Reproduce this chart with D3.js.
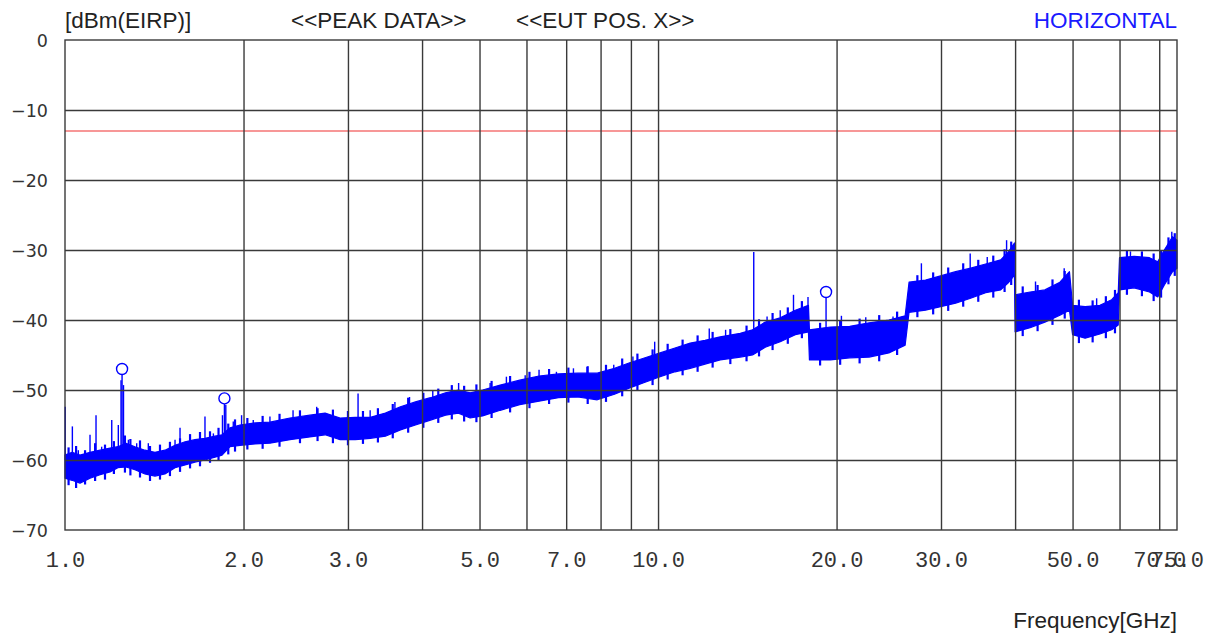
<!DOCTYPE html>
<html><head><meta charset="utf-8">
<script src="https://cdn.jsdelivr.net/npm/d3@7"></script>
<style>body{margin:0;background:#fff}svg{display:block}</style>
</head><body><svg id="c" width="1211" height="636"></svg>
<script>
// ---- data ----
const bandFreq = [1.000,1.028,1.060,1.102,1.146,1.191,1.228,1.267,1.312,1.364,1.418,1.474,1.533,1.594,1.656,1.722,1.790,1.840,1.898,1.973,2.092,2.216,2.395,2.588,2.745,2.910,3.086,3.272,3.469,3.678,3.899,4.134,4.382,4.607,4.820,5.060,5.418,5.844,6.300,6.793,7.324,7.898,8.445,8.957,9.509,10.08,10.68,11.33,12.00,12.73,13.76,14.43,15.16,16.07,17.04,17.93,18.00,19.52,21.05,22.70,24.50,26.10,26.50,28.25,29.95,31.75,33.66,35.68,37.83,38.95,39.90,40.00,42.40,44.90,47.60,49.40,50.00,52.50,55.60,58.20,59.70,60.00,63.50,67.40,69.60,71.40,73.70,75.00];
const bandTop = [-59.3,-58.9,-59.3,-58.9,-58.6,-58.3,-58.1,-57.6,-58.1,-58.6,-58.9,-58.6,-57.9,-57.4,-57.1,-56.9,-56.6,-56.4,-55.4,-55.0,-54.7,-54.6,-54.0,-53.6,-53.3,-54.0,-53.9,-53.9,-53.3,-52.4,-51.7,-51.1,-50.4,-50.0,-50.4,-50.0,-49.3,-48.6,-48.0,-47.7,-47.6,-47.6,-46.9,-46.1,-45.4,-44.7,-44.0,-43.3,-42.9,-42.4,-41.9,-41.4,-40.3,-39.7,-38.6,-37.9,-41.4,-41.0,-40.9,-40.4,-40.0,-39.4,-34.6,-34.3,-33.7,-33.1,-32.6,-32.0,-31.4,-30.3,-29.0,-36.4,-36.0,-35.7,-34.6,-33.1,-37.9,-38.1,-37.9,-37.1,-36.1,-31.1,-30.9,-31.1,-31.7,-30.0,-28.1,-28.6];
const bandBottom = [-62.6,-62.9,-63.3,-62.6,-62.1,-61.7,-61.1,-61.0,-61.4,-62.0,-62.3,-62.0,-61.1,-60.7,-60.3,-60.0,-59.6,-59.3,-58.1,-57.9,-57.7,-57.6,-57.1,-56.7,-56.4,-57.1,-57.1,-56.9,-56.6,-55.7,-55.0,-54.3,-53.6,-53.3,-54.0,-53.7,-52.9,-52.1,-51.6,-51.1,-51.0,-51.4,-50.6,-49.7,-48.9,-48.1,-47.4,-46.9,-46.3,-45.7,-45.3,-45.0,-43.9,-43.1,-42.1,-41.7,-45.7,-45.7,-45.4,-45.3,-44.7,-43.6,-38.9,-38.6,-38.1,-37.6,-36.9,-36.1,-35.7,-34.7,-33.6,-41.7,-41.1,-40.3,-39.3,-38.6,-42.1,-42.6,-42.0,-41.4,-40.7,-35.7,-35.4,-36.0,-36.7,-35.0,-33.1,-32.6];

// fine noise texture of the trace: local high / low excursions
const noiseFreq = [1.014,1.044,1.081,1.124,1.168,1.209,1.262,1.289,1.338,1.391,1.446,1.503,1.563,1.625,1.689,1.756,1.815,1.885,1.935,2.03,2.154,2.30,2.49,2.666,2.83,3.0,3.18,3.37,3.57,3.79,4.02,4.26,4.49,4.71,4.94,5.24,5.63,6.07,6.55,7.06,7.61,8.17,8.70,9.23,9.79,10.38,11.0,11.66,12.36,13.24,14.1,14.8,15.6,16.55,17.48,18.76,20.28,21.87,23.6,25.3,27.37,29.1,30.85,32.7,34.67,36.75,38.4,39.4,41.2,43.65,46.25,48.5,51.25,54.05,56.9,58.95,61.75,65.45,68.5,70.5,72.55,74.35];
const noiseHigh = [-58.2,-58.0,-58.6,-57.6,-57.8,-57.3,-56.5,-57.0,-57.2,-58.0,-57.8,-57.4,-56.9,-56.3,-56.0,-55.9,-55.4,-54.8,-54.2,-54.0,-53.7,-53.4,-52.9,-52.6,-52.8,-53.0,-53.0,-52.6,-52.0,-51.1,-50.4,-49.8,-49.3,-49.4,-49.2,-48.7,-48.0,-47.4,-47.0,-46.8,-46.6,-46.4,-45.5,-44.8,-44.2,-43.4,-42.8,-42.2,-41.7,-41.3,-40.8,-39.9,-39.0,-38.2,-37.3,-40.4,-40.0,-39.8,-39.3,-38.8,-33.6,-33.2,-32.5,-31.9,-31.4,-30.8,-29.9,-28.8,-35.2,-35.0,-34.2,-33.0,-37.1,-37.2,-36.6,-35.7,-30.1,-30.2,-30.5,-30.0,-28.2,-27.6];
const noiseLow = [-63.6,-64.0,-63.5,-63.0,-62.8,-62.0,-61.8,-62.2,-62.5,-63.0,-62.8,-62.3,-61.7,-61.2,-60.9,-60.4,-60.1,-59.2,-58.8,-58.5,-58.4,-58.1,-57.6,-57.3,-57.6,-57.9,-57.7,-57.5,-56.9,-56.1,-55.4,-54.7,-54.2,-54.5,-54.6,-54.0,-53.2,-52.6,-52.0,-51.8,-52.0,-51.7,-50.9,-50.0,-49.3,-48.5,-47.9,-47.4,-46.8,-46.3,-45.9,-45.2,-44.3,-43.4,-42.6,-46.5,-46.4,-46.2,-45.9,-45.0,-39.6,-39.2,-38.7,-38.1,-37.4,-36.8,-36.0,-35.0,-42.3,-41.6,-40.7,-39.8,-43.3,-43.2,-42.6,-41.9,-36.4,-36.6,-37.3,-36.8,-34.9,-33.7];

const spikeFreq = [1.001,1.029,1.053,1.102,1.128,1.153,1.199,1.230,1.243,1.248,1.255,1.279,1.321,1.382,1.446,1.533,1.563,1.625,1.722,1.779,1.843,1.857,1.867,1.922,1.985,2.077,2.216,2.424,2.657,2.796,2.963,3.12,3.27,3.60,3.81,4.17,4.61,5.21,5.55,5.97,6.30,6.74,7.20,7.59,8.42,9.07,9.87,12.2,13.0,14.5,15.27,16.07,16.92,17.9,19.2,20.38,22.4,24.9,27.8,33.6,35.9,38.7,43.3,48.4,54.9,62.6,73.5];
const spikeTop = [-52.4,-55.2,-58.6,-56.4,-53.6,-58.1,-54.3,-55.0,-48.6,-47.0,-49.3,-57.1,-57.6,-57.6,-58.3,-57.1,-55.4,-56.9,-53.8,-56.2,-53.6,-51.2,-52.1,-54.5,-53.6,-54.3,-53.8,-52.9,-52.4,-53.6,-54.3,-50.5,-52.9,-51.7,-51.0,-50.0,-49.0,-49.0,-48.1,-47.9,-47.1,-47.4,-46.9,-46.7,-46.4,-45.2,-43.1,-41.2,-41.4,-30.3,-39.5,-38.6,-36.4,-36.7,-36.0,-39.4,-39.6,-39.5,-31.9,-30.5,-31.0,-28.6,-34.5,-32.6,-36.9,-30.2,-27.4];
const spikeBase = [-60.0,-60.0,-61.0,-60.5,-60.0,-60.0,-60.0,-59.5,-60.0,-60.0,-60.0,-59.5,-60.0,-60.5,-60.5,-59.5,-59.0,-58.7,-58.5,-58.0,-58.0,-58.0,-57.5,-56.7,-56.5,-56.2,-56.0,-55.5,-55.0,-55.0,-55.5,-55.5,-55.4,-54.5,-53.5,-52.7,-51.7,-51.5,-50.8,-50.2,-49.8,-49.4,-49.3,-49.3,-48.7,-48.0,-46.5,-44.5,-44.0,-43.0,-42.0,-41.4,-40.4,-39.8,-43.0,-43.0,-43.0,-42.3,-36.5,-34.8,-34.0,-32.5,-38.0,-36.0,-40.0,-33.0,-30.5];

const markerFreq = [1.248, 1.857, 19.2];
const markerLevel = [-47.0, -51.2, -36.0];
const limitLevel = -13;

const gridFreq = [2,3,4,5,6,7,8,9,10,20,30,40,50,60,70];
const tickFreq = [1,2,3,5,7,10,20,30,50,70,75];
const tickLabels = ["1.0","2.0","3.0","5.0","7.0","10.0","20.0","30.0","50.0","70.0","75.0"];
const levelTicks = [0,-10,-20,-30,-40,-50,-60,-70];
const levelLabels = ["0","\u221210","\u221220","\u221230","\u221240","\u221250","\u221260","\u221270"];

// ---- drawing ----
const svg = d3.select("#c");
const W = 1211, H = 636;
const L = 65, R = 1177, T = 40, B = 530;
const x = d3.scaleLog().domain([1, 75]).range([L, R]);
const y = d3.scaleLinear().domain([-70, 0]).range([B, T]);
const blue = "#0000ff";
const gridCol = "#3a3a3a";

svg.append("rect").attr("width", W).attr("height", H).attr("fill", "#fff");

// limit line
svg.append("line").attr("x1", L).attr("x2", R)
  .attr("y1", y(limitLevel)).attr("y2", y(limitLevel))
  .attr("stroke", "#f03030").attr("stroke-width", 1.2);

// band
const band = bandFreq.map((f, i) => ({f, t: bandTop[i], b: bandBottom[i]}));
const area = d3.area().x(d => x(d.f)).y0(d => y(d.b)).y1(d => y(d.t));
svg.append("path").datum(band).attr("d", area)
  .attr("fill", blue).attr("stroke", blue).attr("stroke-width", 1.2).attr("stroke-linejoin", "round");

// noise texture
const noise = noiseFreq.map((f, i) => ({f, t: noiseHigh[i], b: noiseLow[i]}));
svg.append("g").selectAll("line").data(noise).join("line")
  .attr("x1", d => x(d.f)).attr("x2", d => x(d.f))
  .attr("y1", d => y(d.b)).attr("y2", d => y(d.t))
  .attr("stroke", blue).attr("stroke-width", 2.2);

// spikes
const spikes = spikeFreq.map((f, i) => ({f, t: spikeTop[i], b: spikeBase[i]}));
svg.append("g").selectAll("line").data(spikes).join("line")
  .attr("x1", d => x(d.f)).attr("x2", d => x(d.f))
  .attr("y1", d => y(d.b)).attr("y2", d => y(d.t))
  .attr("stroke", blue).attr("stroke-width", 1.4);

// markers
svg.append("g").selectAll("circle").data(markerFreq).join("circle")
  .attr("cx", d => x(d)).attr("cy", (d, i) => y(markerLevel[i]))
  .attr("r", 5.5).attr("fill", "#fff").attr("stroke", blue).attr("stroke-width", 1.4);

// grid (on top of trace)
const gx = svg.append("g").attr("transform", `translate(0,${B})`)
  .call(d3.axisBottom(x).tickValues(gridFreq).tickSize(-(B - T)).tickFormat(""));
gx.select(".domain").remove();
gx.selectAll("line").attr("stroke", gridCol).attr("stroke-width", 1.4);

const gy = svg.append("g").attr("transform", `translate(${L},0)`)
  .call(d3.axisLeft(y).tickValues(levelTicks.slice(1, -1)).tickSize(-(R - L)).tickFormat(""));
gy.select(".domain").remove();
gy.selectAll("line").attr("stroke", gridCol).attr("stroke-width", 1.4);

// frame
svg.append("rect").attr("x", L).attr("y", T).attr("width", R - L).attr("height", B - T)
  .attr("fill", "none").attr("stroke", gridCol).attr("stroke-width", 1.4);

// y labels
const ya = svg.append("g").attr("transform", `translate(48,0)`)
  .call(d3.axisLeft(y).tickValues(levelTicks).tickSize(0).tickPadding(0)
    .tickFormat(d => levelLabels[levelTicks.indexOf(d)]));
ya.select(".domain").remove();
ya.selectAll("text").attr("font-family", "DejaVu Sans").attr("font-size", 17.5)
  .attr("fill", "#333").attr("dy", "0.9em").attr("transform", "translate(0,-9)");

// x labels
const xa = svg.append("g").attr("transform", `translate(0,${B})`)
  .call(d3.axisBottom(x).tickValues(tickFreq).tickSize(0).tickPadding(0)
    .tickFormat(d => tickLabels[tickFreq.indexOf(d)]));
xa.select(".domain").remove();
xa.selectAll("text").attr("font-family", "Liberation Mono").attr("font-size", 22)
  .attr("fill", "#333").attr("dy", "0").attr("y", 37);

// header texts
const hdr = (t, xx, yy, anchor, col) => svg.append("text").text(t)
  .attr("x", xx).attr("y", yy).attr("text-anchor", anchor)
  .attr("font-family", "Liberation Sans").attr("font-size", 22.5).attr("fill", col);
hdr("[dBm(EIRP)]", 65, 28, "start", "#222");
hdr("<<PEAK DATA>>", 291, 28, "start", "#222");
hdr("<<EUT POS. X>>", 516, 28, "start", "#222");
hdr("HORIZONTAL", 1177, 28, "end", "#1a1aff");
hdr("Frequency[GHz]", 1177, 628, "end", "#222");
</script></body></html>
